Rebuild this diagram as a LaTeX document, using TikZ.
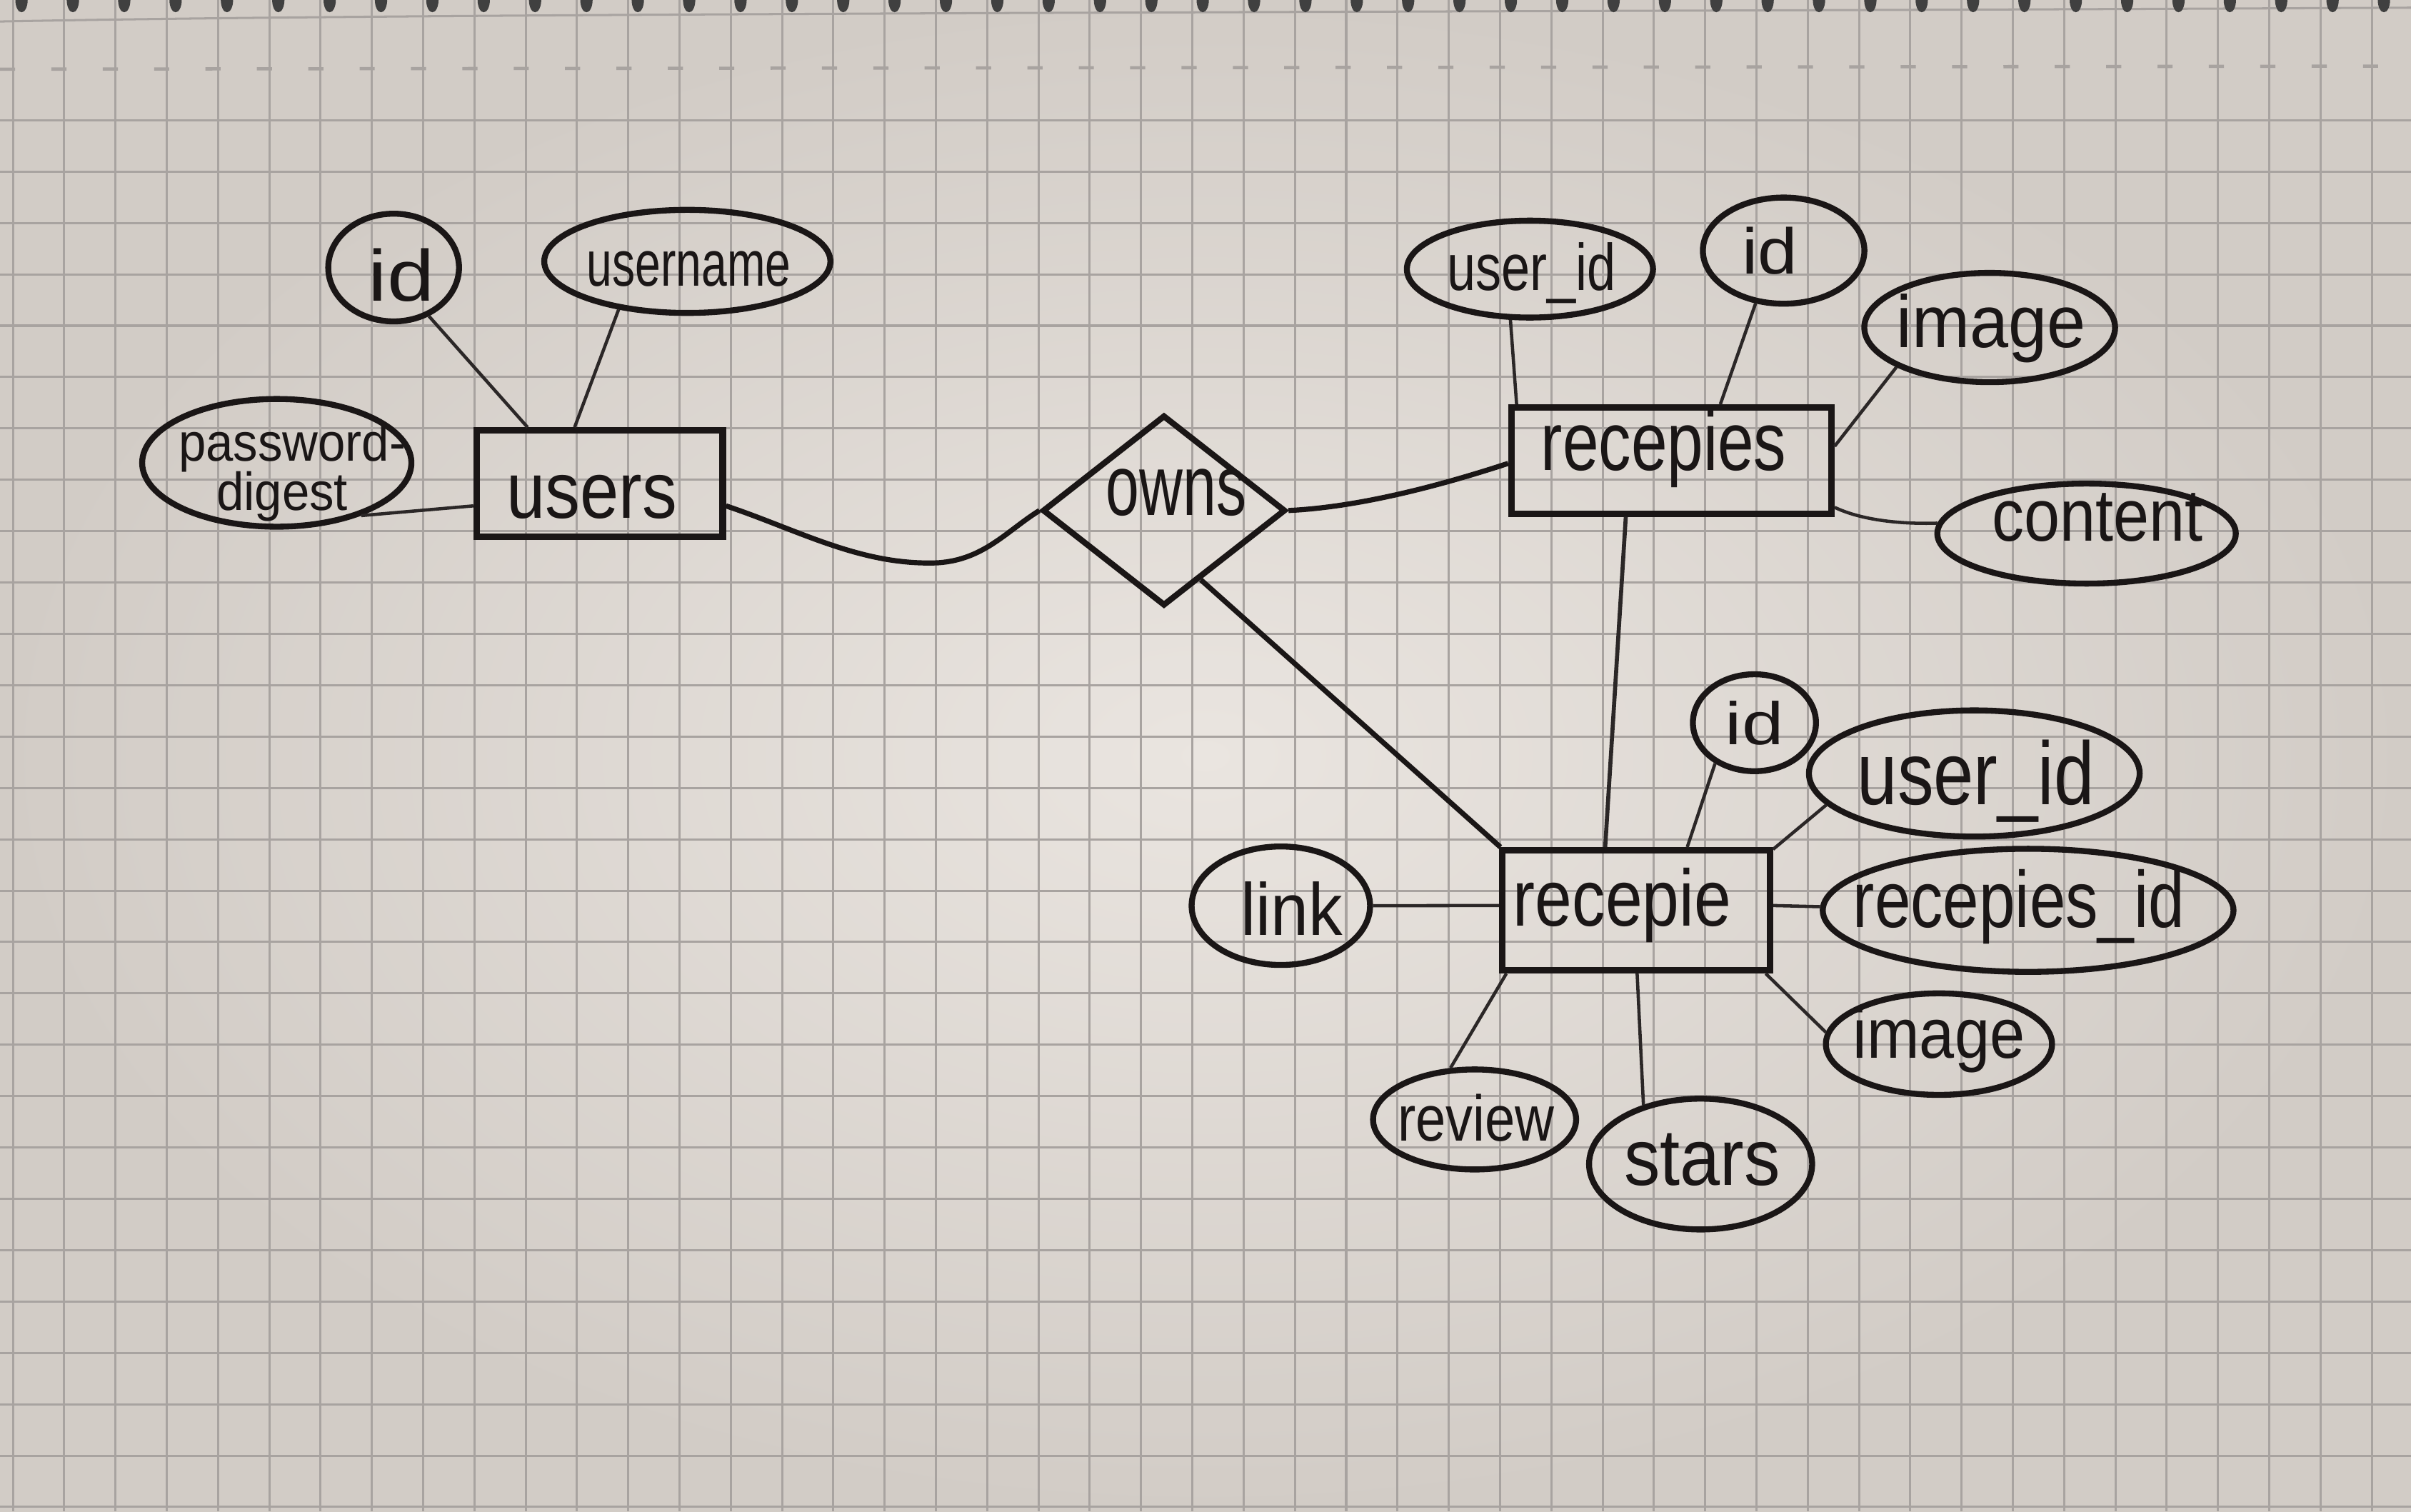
\documentclass[tikz,border=0pt]{standalone}
\usepackage{graphicx}
\usepackage{fontspec}
\setmainfont{Liberation Sans}
\usetikzlibrary{shapes.geometric}
\definecolor{paperlight}{RGB}{234,229,224}
\definecolor{paperdark}{RGB}{210,204,198}
\definecolor{gridc}{RGB}{168,163,160}
\definecolor{ink}{RGB}{26,22,22}
\newcommand{\hw}[3]{\fontsize{#1}{#1}\selectfont\scalebox{#2}[1]{#3}}
\begin{document}
\begin{tikzpicture}[x=0.01cm,y=-0.01cm,
  attr/.style={ellipse, draw=ink, line width=1.1pt, inner sep=0pt},
  entity/.style={rectangle, draw=ink, line width=1.2pt, inner sep=0pt},
  rel/.style={diamond, draw=ink, line width=1.1pt, inner sep=0pt},
  lbl/.style={anchor=base, inner sep=0pt, text=ink},
  attrline/.style={draw=ink!88!gridc, line width=0.6pt},
  relline/.style={draw=ink, line width=0.95pt},
  gridline/.style={draw=gridc, line width=0.4pt}]
\useasboundingbox (0,0) rectangle (1568,983);
\shade[inner color=paperlight, outer color=paperdark] (0,0) rectangle (1568,983);
% grid paper
\foreach \k in {0,...,46} \draw[gridline] ({8.4+33.35*\k},0) -- ({8.4+33.35*\k},983);
\foreach \k in {0,...,27} \draw[gridline] (0,{78.2+33.4*\k}) -- (1568,{78.2+33.4*\k});
\draw[gridline] (0,14) .. controls (300,8) and (1000,8) .. (1568,5);
\draw[gridc, line width=0.6pt, dash pattern=on 2.8pt off 6.7pt] (0,45) -- (1568,43);
\foreach \k in {0,...,46} \fill[black!75] ({14+33.4*\k},0) ellipse [x radius=0.04cm, y radius=0.08cm];
% entities and relationship
\node[entity, minimum width=1.60cm, minimum height=0.69cm] (users) at (390,314.5) {};
\node[entity, minimum width=2.08cm, minimum height=0.69cm] (recepies) at (1087,299.5) {};
\node[entity, minimum width=1.74cm, minimum height=0.78cm] (recepie) at (1064,592) {};
\node[rel, minimum width=1.58cm, minimum height=1.24cm] (owns) at (757,332) {};
% attributes
\node[attr, minimum width=0.85cm, minimum height=0.70cm] (a-id1) at (256,174) {};
\node[attr, minimum width=1.86cm, minimum height=0.67cm] (a-username) at (447,170) {};
\node[attr, minimum width=1.75cm, minimum height=0.83cm] (a-pass) at (180,301) {};
\node[attr, minimum width=1.60cm, minimum height=0.63cm] (a-uid1) at (995,175) {};
\node[attr, minimum width=1.05cm, minimum height=0.69cm] (a-id2) at (1160,163) {};
\node[attr, minimum width=1.63cm, minimum height=0.71cm] (a-img1) at (1294,213) {};
\node[attr, minimum width=1.94cm, minimum height=0.65cm] (a-content) at (1357,347) {};
\node[attr, minimum width=0.80cm, minimum height=0.63cm] (a-id3) at (1141,470) {};
\node[attr, minimum width=2.15cm, minimum height=0.82cm] (a-uid2) at (1284,503) {};
\node[attr, minimum width=2.67cm, minimum height=0.80cm] (a-rid) at (1319,592) {};
\node[attr, minimum width=1.47cm, minimum height=0.66cm] (a-img2) at (1261,679) {};
\node[attr, minimum width=1.45cm, minimum height=0.85cm] (a-stars) at (1106,757) {};
\node[attr, minimum width=1.32cm, minimum height=0.65cm] (a-review) at (959,728) {};
\node[attr, minimum width=1.16cm, minimum height=0.77cm] (a-link) at (833,589) {};
% labels
\node[lbl] (t-id1) at (261,196) {\hw{13.4pt}{1.17}{id}};
\node[lbl] (t-username) at (448,186) {\hw{11.95pt}{0.71}{username}};
\node[lbl] (t-pass1) at (190,300) {\hw{9.9pt}{0.92}{password-}};
\node[lbl] (t-pass2) at (183.5,332) {\hw{9.9pt}{0.92}{digest}};
\node[lbl] (t-users) at (385,337) {\hw{14.8pt}{0.87}{users}};
\node[lbl] (t-owns) at (765,335) {\hw{15.9pt}{0.7}{owns}};
\node[lbl] (t-uid1) at (996,189) {\hw{12.2pt}{0.78}{user\_id}};
\node[lbl] (t-id2) at (1151,178) {\hw{11.95pt}{1.1}{id}};
\node[lbl] (t-img1) at (1295,226) {\hw{13.66pt}{0.94}{image}};
\node[lbl] (t-recepies) at (1082,306) {\hw{15.4pt}{0.78}{recepies}};
\node[lbl] (t-content) at (1364,352) {\hw{13.66pt}{0.87}{content}};
\node[lbl] (t-recepie) at (1055,602) {\hw{14.8pt}{0.83}{recepie}};
\node[lbl] (t-id3) at (1141,484) {\hw{11.1pt}{1.25}{id}};
\node[lbl] (t-uid2) at (1285,523) {\hw{16.5pt}{0.81}{user\_id}};
\node[lbl] (t-rid) at (1313,603) {\hw{14.8pt}{0.81}{recepies\_id}};
\node[lbl] (t-img2) at (1261,688) {\hw{13.1pt}{0.89}{image}};
\node[lbl] (t-stars) at (1107,771) {\hw{14.8pt}{0.9}{stars}};
\node[lbl] (t-review) at (960,742) {\hw{11.95pt}{0.84}{review}};
\node[lbl] (t-link) at (840,608) {\hw{13.66pt}{0.92}{link}};
% connectors
\draw[attrline] (a-id1.-54) -- (users.142);
\draw[attrline] (a-username.-145) -- (users.114);
\draw[attrline] (a-pass.-32) -- (users.190);
\draw[relline] (users.-10) .. controls (520,345) and (560,368) .. (610,366) .. controls (640,364) and (655,345) .. (owns.west);
\draw[relline] (owns.east) .. controls (880,330) and (930,318) .. (recepies.181);
\draw[relline] (owns.-62) -- (recepie.155);
\draw[attrline, line width=0.75pt] (recepies.-129) -- (recepie.116);
\draw[attrline] (a-uid1.-111) -- (recepies.160);
\draw[attrline] (a-id2.-118) -- (recepies.49);
\draw[attrline] (a-img1.-157) -- (recepies.5);
\draw[attrline] (recepies.-16) .. controls (1210,338) and (1235,341) .. (a-content.176);
\draw[attrline] (a-id3.-134) -- (recepie.51);
\draw[attrline] (a-uid2.-168) -- (recepie.24);
\draw[attrline] (recepie.2) -- (a-rid.179);
\draw[attrline] (recepie.-26) -- (a-img2.174);
\draw[attrline] (recepie.-89) -- (a-stars.134);
\draw[attrline] (recepie.-154) -- (a-review.115);
\draw[attrline] (a-link.east) -- (recepie.178);
\end{tikzpicture}
\end{document}
